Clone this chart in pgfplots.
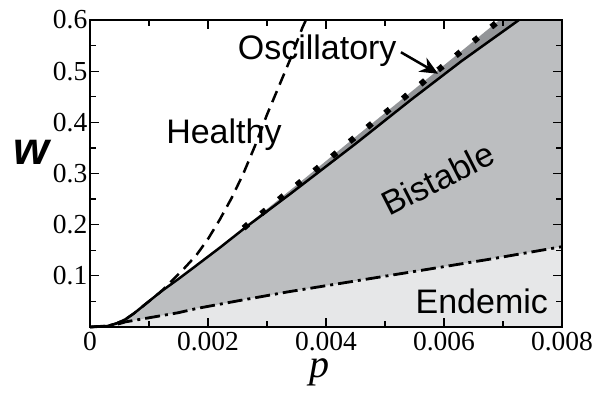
\documentclass[border=0pt]{standalone}
\usepackage{fontspec}
\setmainfont{Liberation Serif}
\newfontfamily\hel{Liberation Sans}
\usepackage{pgfplots}
\pgfplotsset{compat=1.18}
\usetikzlibrary{arrows.meta}
\definecolor{endemic}{HTML}{E6E7E8}
\definecolor{bistable}{HTML}{BCBEC0}
\definecolor{oscill}{HTML}{939598}
\begin{document}
\begin{tikzpicture}
\begin{axis}[
  at={(0,0)}, anchor=south west,
  scale only axis, width=472pt, height=307pt,
  xmin=0, xmax=0.008, ymin=0, ymax=0.6,
  axis line style={line width=1.4pt},
  every tick/.style={line width=1.2pt, black},
  tick align=inside,
  xtick pos=both, ytick pos=both,
  major tick length=9pt, minor tick length=6pt,
  xtick={0,0.002,0.004,0.006,0.008},
  xticklabels={0,0.002,0.004,0.006,0.008},
  minor xtick={0.001,0.003,0.005,0.007},
  ytick={0.1,0.2,0.3,0.4,0.5,0.6},
  yticklabels={0.1,0.2,0.3,0.4,0.5,0.6},
  minor ytick={0.05,0.15,0.25,0.35,0.45,0.55},
  scaled x ticks=false, scaled y ticks=false,
  tick label style={font=\fontsize{27.5}{28}\selectfont},
  xticklabel style={inner ysep=5pt},
  yticklabel style={inner xsep=2.5pt},
  clip=false,
  axis on top,
]
% Endemic region
\addplot[fill=endemic, draw=none] coordinates {
 (0,0) (0.0003,0.002) (0.00045,0.005) (0.0006,0.010) (0.00095,0.017) (0.0015,0.028) (0.0018,0.036)
 (0.0025,0.051) (0.00337,0.069) (0.0045,0.090) (0.00563,0.111) (0.0068,0.133) (0.008,0.157)
 (0.008,0) (0,0)} \closedcycle;
% Bistable region
\addplot[fill=bistable, draw=none] coordinates {
 (0.0006,0.010) (0.0006,0.015) (0.00075,0.027) (0.0009,0.041) (0.0012,0.069) (0.0015,0.094) (0.0018,0.120)
 (0.0022,0.155) (0.00264,0.195) (0.00337,0.258) (0.0045,0.358) (0.00544,0.444)
 (0.0063,0.520) (0.00727,0.6) (0.008,0.6) (0.008,0.157) (0.0068,0.133) (0.00563,0.111)
 (0.0045,0.090) (0.00337,0.069) (0.0025,0.051) (0.0018,0.036) (0.0015,0.028)
 (0.00095,0.017) (0.0006,0.010)};
% Oscillatory region
\addplot[fill=oscill, draw=none] coordinates {
 (0.00264,0.197) (0.00354,0.281) (0.00444,0.366) (0.00534,0.450) (0.00624,0.534)
 (0.00694,0.6) (0.00727,0.6) (0.0063,0.520) (0.00544,0.444) (0.0045,0.358)
 (0.00337,0.258) (0.00264,0.195)};
% Endemic boundary (dash-dot)
\addplot[black, line width=2.8pt, dash pattern=on 15pt off 5pt on 3pt off 5pt] coordinates {
 (0,0) (0.0003,0.002) (0.00045,0.005) (0.0006,0.010) (0.00095,0.017) (0.0015,0.028) (0.0018,0.036)
 (0.0025,0.051) (0.00337,0.069) (0.0045,0.090) (0.00563,0.111) (0.0068,0.133) (0.008,0.157)};
% Bistable boundary (solid)
\addplot[black, line width=2.5pt] coordinates {
 (0,0) (0.0003,0.002) (0.00045,0.007) (0.0006,0.015) (0.00075,0.027) (0.0009,0.041) (0.0012,0.069) (0.0015,0.094)
 (0.0018,0.120) (0.0022,0.155) (0.00264,0.195) (0.00337,0.258) (0.0045,0.358)
 (0.00544,0.444) (0.0063,0.520) (0.00727,0.6)};
% Healthy boundary (dashed)
\addplot[black, line width=2.5pt, dash pattern=on 12pt off 7pt] coordinates {
 (0,0) (0.0003,0.002) (0.00045,0.007) (0.0006,0.015) (0.00075,0.027) (0.0009,0.041) (0.0012,0.069) (0.00142,0.094)
 (0.0016,0.115) (0.0018,0.140) (0.0020,0.172) (0.0022,0.210) (0.0024,0.252)
 (0.0026,0.300) (0.0028,0.355) (0.0030,0.415) (0.0032,0.470) (0.0034,0.525)
 (0.0036,0.585) (0.00366,0.6)};
% Oscillatory boundary (dots)
\addplot[only marks, mark=square*, mark size=2.7pt, mark options={rotate=40, fill=black}] coordinates {
 (0.00264,0.197) (0.00294,0.225) (0.00324,0.253) (0.00354,0.281) (0.00384,0.309)
 (0.00414,0.337) (0.00444,0.366) (0.00474,0.394) (0.00504,0.422) (0.00534,0.450)
 (0.00564,0.478) (0.00594,0.506) (0.00624,0.534) (0.00654,0.562) (0.00684,0.590)};
% Region labels
\node[anchor=base, font=\hel\fontsize{34}{35}\selectfont] at (axis cs:0.00227,0.358) {Healthy};
\node[anchor=base, font=\hel\fontsize{34}{35}\selectfont] at (axis cs:0.00385,0.522) {Oscillatory};
\node[anchor=base, font=\hel\fontsize{34}{35}\selectfont] at (axis cs:0.00664,0.027) {Endemic};
\node[anchor=center, rotate=27, font=\hel\fontsize{34}{35}\selectfont] at (axis cs:0.0059,0.29) {Bistable};
\draw[black, line width=2.5pt, -{Stealth[length=18pt,width=16pt]}] (axis cs:0.00527,0.537) -- (axis cs:0.00590,0.495);
% Axis labels
\node[anchor=center, font=\hel\bfseries\itshape\fontsize{46}{46}\selectfont] at (axis description cs:-0.125,0.57) {w};
\node[anchor=base, font=\itshape\fontsize{40}{40}\selectfont] at (axis description cs:0.487,-0.163) {p};
\end{axis}
\pgfresetboundingbox
\path[use as bounding box] (-90pt,-65pt) rectangle (502pt,327pt);
\end{tikzpicture}
\end{document}
